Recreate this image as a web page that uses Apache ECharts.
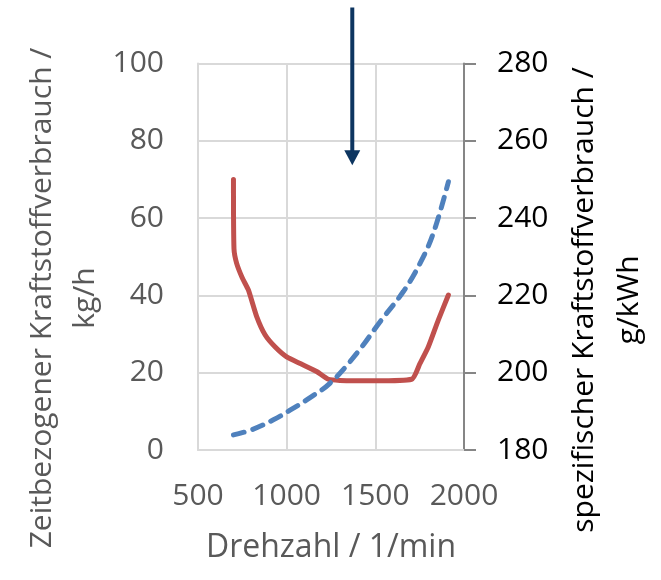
<!DOCTYPE html>
<html>
<head>
<meta charset="utf-8">
<script src="https://cdn.jsdelivr.net/npm/echarts@6/dist/echarts.min.js"></script>
<style>html,body{margin:0;padding:0;background:#fff}#c{width:661px;height:580px}</style>
</head>
<body>
<div id="c"></div>
<script>
// Data
const xTicks = [500, 1000, 1500, 2000];
const leftTicks = [0, 20, 40, 60, 80, 100];
const rightTicks = [180, 200, 220, 240, 260, 280];

const hourlyRpm =  [700, 703, 718, 750, 784, 831, 878, 934, 1000, 1080, 1169, 1235, 1300, 1500, 1705, 1752, 1799, 1855, 1912];
const hourlyFuel = [70.0, 52.0, 48.3, 44.5, 41.4, 34.5, 29.8, 26.7, 24.1, 22.3, 20.3, 18.3, 18.0, 17.9, 18.3, 22.4, 26.7, 33.6, 40.1];

const specRpm =  [700, 800, 925, 1019, 1130, 1245, 1395, 1527, 1658, 1752, 1827, 1912];
const specFuel = [183.9, 185.2, 187.8, 190.3, 193.5, 197.3, 205.0, 213.2, 221.0, 228.3, 236.1, 249.4];

const arrowRpm = 1370;
const arrowFrom = 114.5;
const arrowTo = 73.7;

const leftTitle = 'Zeitbezogener Kraftstoffverbrauch /\nkg/h';
const rightTitle = 'spezifischer Kraftstoffverbrauch /\ng/kWh';
const xTitle = 'Drehzahl / 1/min';

const FONT = '"Open Sans", sans-serif';
const FS = 30;
const chart = echarts.init(document.getElementById('c'), null, {renderer: 'canvas'});

const zip = (a, b) => a.map((v, i) => [v, b[i]]);

chart.setOption({
  animation: false,
  grid: {left: 198, right: 197, top: 63.5, bottom: 130, containLabel: false},
  xAxis: {
    type: 'value', min: xTicks[0], max: xTicks[xTicks.length - 1], interval: 500,
    axisLine: {show: true, lineStyle: {color: '#d9d9d9', width: 2}},
    axisTick: {show: false},
    axisLabel: {color: '#595959', fontSize: FS, fontFamily: FONT, margin: 31, formatter: v => String(v)},
    splitLine: {show: true, lineStyle: {color: '#d9d9d9', width: 2}},
    name: xTitle, nameLocation: 'middle', nameGap: 82,
    nameTextStyle: {color: '#595959', fontSize: 32, fontFamily: FONT}
  },
  yAxis: [{
    type: 'value', min: leftTicks[0], max: leftTicks[leftTicks.length - 1], interval: 20,
    position: 'left',
    axisLine: {show: true, lineStyle: {color: '#d9d9d9', width: 2}},
    axisTick: {show: false},
    axisLabel: {color: '#595959', fontSize: FS, fontFamily: FONT, margin: 34},
    splitLine: {show: true, lineStyle: {color: '#d9d9d9', width: 2}}
  }, {
    type: 'value', min: rightTicks[0], max: rightTicks[rightTicks.length - 1], interval: 20,
    position: 'right',
    axisLine: {show: true, lineStyle: {color: '#868686', width: 2}},
    axisTick: {show: true, inside: false, length: 12, lineStyle: {color: '#868686', width: 2}},
    axisLabel: {color: '#000000', fontSize: FS, fontFamily: FONT, margin: 33},
    splitLine: {show: false}
  }],
  graphic: [{
    type: 'text', x: 64, y: 298, rotation: Math.PI / 2,
    style: {text: leftTitle, fill: '#595959', font: FS + 'px ' + FONT, align: 'center', verticalAlign: 'middle', lineHeight: 43}
  }, {
    type: 'text', x: 607, y: 300, rotation: Math.PI / 2,
    style: {text: rightTitle, fill: '#000000', font: FS + 'px ' + FONT, align: 'center', verticalAlign: 'middle', lineHeight: 45}
  }],
  series: [{
    type: 'line', yAxisIndex: 0, data: zip(hourlyRpm, hourlyFuel),
    showSymbol: false, smooth: 0.2,
    lineStyle: {color: '#c0504d', width: 5, cap: 'round', join: 'round'}
  }, {
    type: 'line', yAxisIndex: 1, data: zip(specRpm, specFuel),
    showSymbol: false, smooth: 0.4,
    lineStyle: {color: '#4f81bd', width: 5, type: [11, 9], cap: 'round'}
  }, {
    type: 'custom', yAxisIndex: 0, clip: false,
    data: [[arrowRpm, arrowFrom, arrowTo]],
    renderItem: function (params, api) {
      const top = api.coord([api.value(0), api.value(1)]);
      const tip = api.coord([api.value(0), api.value(2)]);
      const head = 15, half = 8;
      return {
        type: 'group', children: [{
          type: 'line',
          shape: {x1: top[0], y1: top[1], x2: tip[0], y2: tip[1] - head + 1},
          style: {stroke: '#0d3560', lineWidth: 4}
        }, {
          type: 'polygon',
          shape: {points: [[tip[0] - half, tip[1] - head], [tip[0] + half, tip[1] - head], [tip[0], tip[1]]]},
          style: {fill: '#0d3560'}
        }]
      };
    }
  }]
});
</script>
</body>
</html>
